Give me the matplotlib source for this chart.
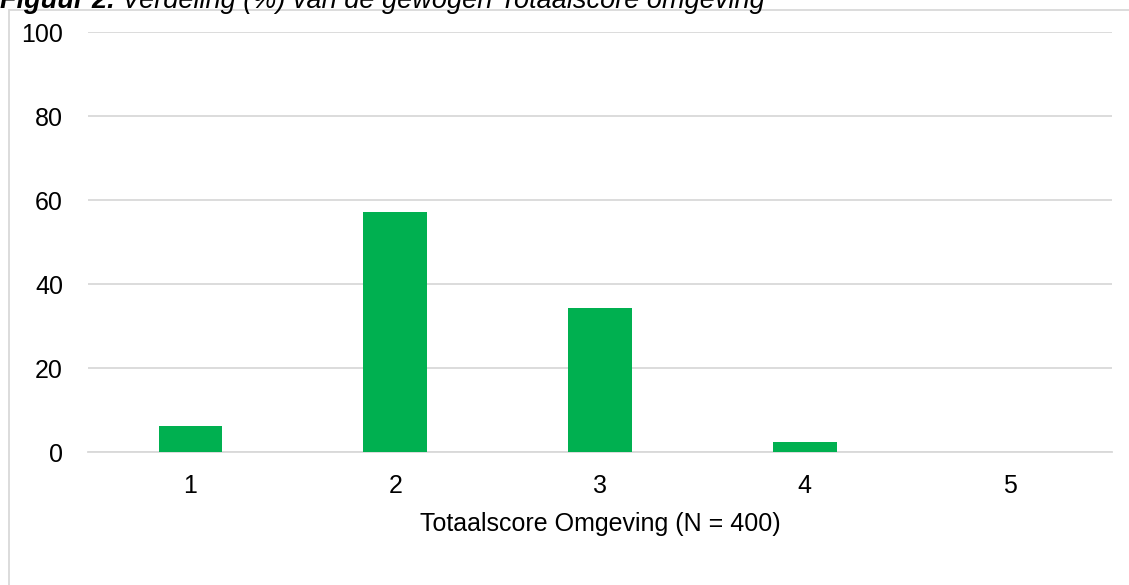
import matplotlib
matplotlib.use("Agg")
import matplotlib.pyplot as plt
from matplotlib.patches import Rectangle
import numpy as np

plt.rcParams['font.family'] = ['Liberation Sans', 'DejaVu Sans']

# data: percentage per total score
categories = ['1', '2', '3', '4', '5']
percent = [6.1, 57.2, 34.2, 2.4, 0.0]

W, H = 1129, 585
fig = plt.figure(figsize=(W / 100, H / 100), dpi=100)

# plot area in pixels: x 88..1112, y 32..452
left, right, top, bottom = 88, 1112, 32, 452
ax = fig.add_axes([left / W, 1 - bottom / H, (right - left) / W, (bottom - top) / H])

ind = np.arange(len(categories))
ax.bar(ind, percent, 0.31, color='#00B050', zorder=3)

ax.set_xlim(-0.5, len(categories) - 0.5)
ax.set_ylim(0, 100)
ax.set_yticks(np.arange(0, 101, 20))
ax.set_xticks(ind)
ax.set_xticklabels(categories)
ax.grid(axis='y', color='#D9D9D9', linewidth=1.3, zorder=0)
ax.tick_params(axis='both', length=0, labelsize=18, colors='black')
ax.tick_params(axis='y', pad=18)
ax.tick_params(axis='x', pad=16)
for s in ['top', 'right', 'left']:
    ax.spines[s].set_visible(False)
ax.spines['bottom'].set_color('#D9D9D9')
ax.spines['bottom'].set_linewidth(1.3)
ax.set_xlabel('Totaalscore Omgeving (N = 400)', fontsize=18, labelpad=10)

# chart frame, cut off at right and bottom
fig.patches.append(Rectangle((9 / W, -0.1), 1.2, 1 - 10 / H + 0.1,
                             transform=fig.transFigure, fill=False,
                             edgecolor='#D9D9D9', linewidth=1.3))

# caption partly cut off at the top
t = fig.text(0.0, 1 - 8 / H, 'Figuur 2.', fontsize=19.5, fontweight='bold',
             fontstyle='italic', va='baseline', ha='left')
fig.canvas.draw()
ext = t.get_window_extent()
fig.text((ext.x1 + 7) / W, 1 - 8 / H,
         'Verdeling (%) van de gewogen Totaalscore omgeving',
         fontsize=19.5, fontstyle='italic', va='baseline', ha='left')

fig.savefig('out.png', dpi=100)
